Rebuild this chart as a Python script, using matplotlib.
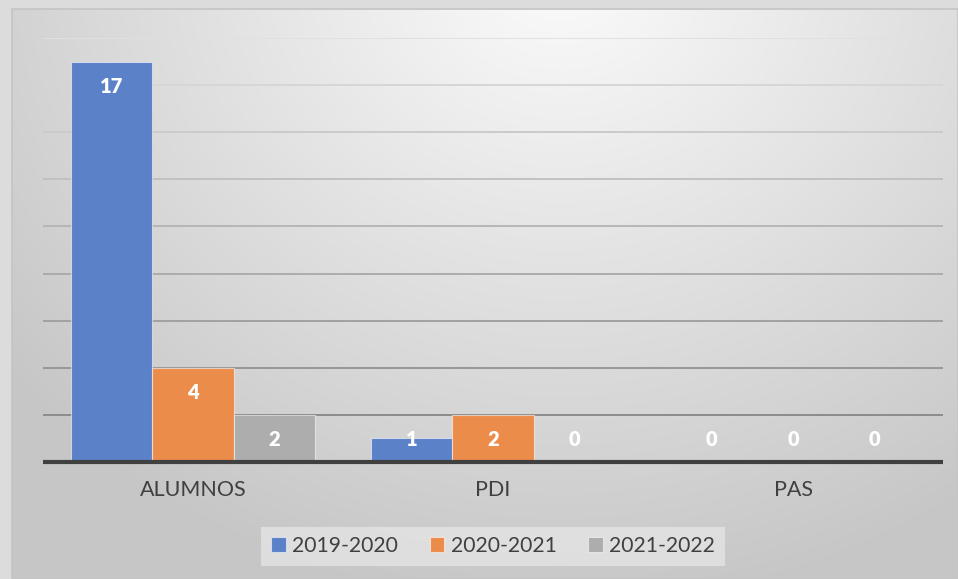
import numpy as np
import matplotlib
matplotlib.use("Agg")
import matplotlib.pyplot as plt
from matplotlib.patches import Rectangle

categories = ["ALUMNOS", "PDI", "PAS"]
series_names = ["2019-2020", "2020-2021", "2021-2022"]
values_2019 = [17, 1, 0]
values_2020 = [4, 2, 0]
values_2021 = [2, 0, 0]
series_values = [values_2019, values_2020, values_2021]
colors = ["#5b81c8", "#ec8c4b", "#adadad"]

W, H = 958, 579
fig = plt.figure(figsize=(W / 100, H / 100), dpi=100)
fig.patch.set_facecolor("#dcdcdc")
plt.rcParams["font.family"] = ["Lato", "DejaVu Sans"]

# background panel with soft radial gradient
bg = fig.add_axes([12 / W, 0, 1 - 12 / W, (H - 9) / H])
bg.set_axis_off()
yy, xx = np.mgrid[9:H, 12:W]
d = np.hypot((xx - 560) * 1.0, (yy + 40) * 1.1)
v = 252 - np.clip(0.075 * d, 0, 54)
img = np.dstack([v, v, v]) / 255.0
bg.imshow(img, aspect="auto", extent=[0, 1, 0, 1], interpolation="bilinear")
bg.set_xlim(0, 1)
bg.set_ylim(0, 1)
fig.add_artist(Rectangle((12 / W, 0), 1 - 12 / W, (H - 9) / H, transform=fig.transFigure,
                         fill=False, edgecolor="#c4c4c4", linewidth=1.2))

ax = fig.add_axes([43 / W, (H - 462) / H, 900 / W, (462 - 38) / H])
ax.patch.set_alpha(0)
ax.set_xlim(-0.5, len(categories) - 0.5)
ax.set_ylim(0, 18)

# gridlines, darker towards the bottom
yticks = np.arange(2, 19, 2)
for i, t in enumerate(yticks):
    f = (t - 2) / 16
    g = 0.55 + 0.33 * f
    ax.axhline(t, color=(g, g, g), linewidth=1.4, zorder=0.5)

bw = 0.272
x = np.arange(len(categories))
for i, (name, vals, c) in enumerate(zip(series_names, series_values, colors)):
    pos = x + (i - 1) * bw
    ax.bar(pos, vals, width=bw, color=c, edgecolor=(1, 1, 1, 0.55), linewidth=0.8,
           label=name, zorder=2)
    for px, val in zip(pos, vals):
        ly = max(val - 1.07, 0.94)
        ax.text(px, ly, str(val), ha="center", va="center", color="white",
                fontsize=14.5, fontweight="heavy", zorder=4)

ax.axhline(0, color="#404040", linewidth=3.0, zorder=3, solid_capstyle="butt",
           clip_on=False)

for s in ax.spines.values():
    s.set_visible(False)
ax.set_yticks([])
ax.set_xticks(x)
ax.set_xticklabels(categories, fontsize=15.5, color="#404040")
ax.tick_params(axis="x", length=0, pad=13)

leg = fig.legend(loc="center", bbox_to_anchor=(493 / W, (H - 546) / H), ncol=3,
                 frameon=True, fontsize=15.2, handlelength=0.7, handleheight=0.7,
                 handletextpad=0.3, columnspacing=1.5, borderpad=0.45, fancybox=False)
leg.get_frame().set_facecolor("#e6e6e6")
leg.get_frame().set_alpha(0.75)
leg.get_frame().set_edgecolor("none")
for t in leg.get_texts():
    t.set_color("#404040")

fig.savefig("out.png", dpi=100, facecolor=fig.get_facecolor())
